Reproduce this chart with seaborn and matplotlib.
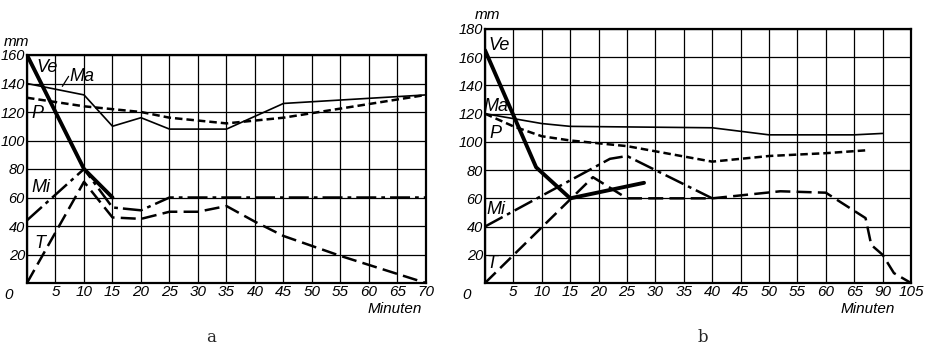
import matplotlib
matplotlib.use("Agg")
import matplotlib.pyplot as plt
import seaborn as sns
import pandas as pd

sns.set_theme(style="white")
plt.rcParams['font.family'] = ['Liberation Sans', 'DejaVu Sans']

# ---- Panel a data (minutes, mm) ----
a_ve_x = [0, 10, 15]
a_ve_y = [160, 80, 60]
a_ma_x = [0, 10, 15, 20, 25, 35, 45, 70]
a_ma_y = [140, 132, 110, 116, 108, 108, 126, 132]
a_p_x = [0, 10, 20, 25, 35, 45, 70]
a_p_y = [130, 124, 120, 116, 112, 116, 132]
a_mi_x = [0, 10, 15, 20, 25, 70]
a_mi_y = [44, 80, 53, 51, 60, 60]
a_t_x = [0, 10, 15, 20, 25, 30, 35, 40, 45, 55, 70]
a_t_y = [0, 71, 46, 45, 50, 50, 54, 43, 33, 19, 0]
a_xticks = list(range(0, 71, 5))
a_xlabels = [""] + [str(v) for v in a_xticks[1:]]
a_yticks = list(range(0, 161, 20))

# ---- Panel b data (axis position, mm); labels 65 -> 90 -> 105 compressed ----
b_ve_x = [0, 9, 15, 28]
b_ve_y = [165, 82, 60, 71]
b_ma_x = [0, 10, 15, 40, 50, 60, 65, 70]
b_ma_y = [120, 113, 111, 110, 105, 105, 105, 106]
b_p_x = [0, 5, 10, 15, 25, 40, 50, 60, 67]
b_p_y = [120, 111, 104, 101, 97, 86, 90, 92, 94]
b_mi_x = [0, 22, 25, 40]
b_mi_y = [40, 88, 90, 60]
b_t_x = [0, 19, 25, 40, 52, 60, 67, 68, 70, 72, 75]
b_t_y = [0, 75, 60, 60, 65, 64, 46, 27, 20, 7, 0]
b_xticks = list(range(0, 76, 5))
b_xlabels = [""] + [str(v) for v in range(5, 66, 5)] + ["90", "105"]
b_yticks = list(range(0, 181, 20))

W, H = 929, 353
fig = plt.figure(figsize=(W / 100, H / 100), dpi=100)
axA = fig.add_axes([27 / W, (H - 283) / H, 399 / W, 228 / H])
axB = fig.add_axes([485 / W, (H - 283) / H, 426 / W, 254 / H])

xlab_font = dict(fontstyle='italic', fontsize=11, color='black')
ylab_font = dict(fontstyle='italic', fontsize=10.5, color='black')


def draw(ax, series, xticks, xlabels, yticks, xmax, ymax):
    for (x, y, lw, ls) in series:
        df = pd.DataFrame({"x": x, "y": y})
        sns.lineplot(data=df, x="x", y="y", ax=ax, color='black', lw=lw,
                     linestyle=ls, estimator=None, sort=False, legend=False)
    ax.set_xlim(0, xmax)
    ax.set_ylim(0, ymax)
    ax.set_xticks(xticks)
    ax.set_xticklabels(xlabels, **xlab_font)
    ax.set_yticks(yticks)
    ax.set_yticklabels([""] + [str(v) for v in yticks[1:]], **ylab_font)
    ax.grid(True, color='black', lw=0.9)
    ax.set_axisbelow(True)
    ax.tick_params(length=0, pad=1.5)
    for s in ax.spines.values():
        s.set_visible(True)
        s.set_color('black')
        s.set_linewidth(1.6)
    ax.set_xlabel("")
    ax.set_ylabel("")
    ax.set_facecolor('white')
    # shared origin label "0" at the lower-left corner
    ax.annotate("0", xy=(0, 0), xycoords='axes fraction', xytext=(-18, -12),
                textcoords='offset pixels', ha='center', va='center', **xlab_font)


solid = '-'
shortdash = (0, (3, 1.6))
longdash = (0, (6, 2.5))
dashdot = (0, (8, 2, 1.5, 2))

draw(axA, [
    (a_ma_x, a_ma_y, 1.2, solid),
    (a_p_x, a_p_y, 1.8, shortdash),
    (a_mi_x, a_mi_y, 1.8, dashdot),
    (a_t_x, a_t_y, 1.8, longdash),
    (a_ve_x, a_ve_y, 2.8, solid),
], a_xticks, a_xlabels, a_yticks, 70, 160)

draw(axB, [
    (b_ma_x, b_ma_y, 1.2, solid),
    (b_p_x, b_p_y, 1.8, shortdash),
    (b_mi_x, b_mi_y, 1.8, dashdot),
    (b_t_x, b_t_y, 1.8, longdash),
    (b_ve_x, b_ve_y, 2.8, solid),
], b_xticks, b_xlabels, b_yticks, 75, 180)

tf = dict(fontstyle='italic', fontsize=13, color='black')
# panel a curve labels
axA.text(3.6, 151, "Ve", **tf, ha='center', va='center')
axA.text(9.7, 145, "Ma", **tf, ha='center', va='center')
axA.plot([6.2, 7.3], [138, 145], color='black', lw=0.9)
axA.text(1.8, 119, "P", **tf, ha='center', va='center')
axA.text(2.4, 67, "Mi", **tf, ha='center', va='center')
axA.text(2.3, 28, "T", **tf, ha='center', va='center')
# panel b curve labels
axB.text(2.4, 168, "Ve", **tf, ha='center', va='center')
axB.text(2.0, 125, "Ma", **tf, ha='center', va='center')
axB.text(1.8, 106, "P", **tf, ha='center', va='center')
axB.text(2.0, 52, "Mi", **tf, ha='center', va='center')
axB.text(1.2, 14, "T", **tf, ha='center', va='center')

# unit labels
fig.text(17 / W, 1 - 42 / H, "mm", **xlab_font, ha='center', va='center')
fig.text(488 / W, 1 - 15 / H, "mm", **xlab_font, ha='center', va='center')
fig.text(395 / W, 1 - 309 / H, "Minuten", **xlab_font, ha='center', va='center')
fig.text(868 / W, 1 - 309 / H, "Minuten", **xlab_font, ha='center', va='center')
fig.text(211 / W, 1 - 338 / H, "a", family='DejaVu Serif', fontsize=12, ha='center', va='center')
fig.text(703 / W, 1 - 338 / H, "b", family='DejaVu Serif', fontsize=12, ha='center', va='center')

fig.savefig("out.png", dpi=100, facecolor='white')
